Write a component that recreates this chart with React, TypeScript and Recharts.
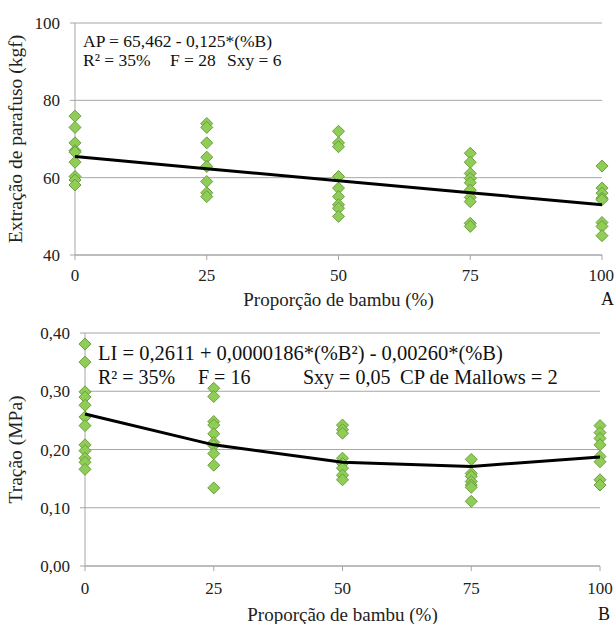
import React from "react";
import { ScatterChart, Scatter, XAxis, YAxis, CartesianGrid, Label } from "recharts";

const proportions = [0, 25, 50, 75, 100];

// Panel A - extração de parafuso (kgf)
const ap0 = [75.9, 73, 69, 67, 66.6, 64, 60.3, 59.4, 58.1];
const ap25 = [74, 73, 69, 65.3, 62.9, 59, 56.1, 55.1];
const ap50 = [72, 69, 68, 60.3, 57.3, 55.1, 53, 52.1, 50];
const ap75 = [66.3, 64, 61.1, 59.8, 58.7, 56.8, 54.9, 53.8, 48.2, 47.4];
const ap100 = [63, 57.3, 56, 54.7, 54.3, 48.4, 47.4, 45];
const apFit = [65.5, 62.3, 59.2, 56.1, 53.0];
const apTicks = [40, 60, 80, 100];

// Panel B - tração (MPa)
const li0 = [0.381, 0.35, 0.299, 0.29, 0.276, 0.256, 0.241, 0.208, 0.198, 0.185, 0.178, 0.166];
const li25 = [0.305, 0.291, 0.248, 0.242, 0.227, 0.212, 0.207, 0.193, 0.173, 0.134];
const li50 = [0.242, 0.234, 0.228, 0.185, 0.176, 0.168, 0.156, 0.148];
const li75 = [0.183, 0.159, 0.154, 0.145, 0.139, 0.135, 0.111];
const li100 = [0.241, 0.229, 0.219, 0.208, 0.188, 0.179, 0.148, 0.139];
const liFit = [0.261, 0.208, 0.178, 0.171, 0.187];
const liTicks = [0, 0.1, 0.2, 0.3, 0.4];

const toPoints = (groups: number[][]) =>
  groups.flatMap((vals, i) => vals.map((y) => ({ x: proportions[i], y })));
const fitPoints = (vals: number[]) => vals.map((y, i) => ({ x: proportions[i], y }));

const apData = toPoints([ap0, ap25, ap50, ap75, ap100]);
const liData = toPoints([li0, li25, li50, li75, li100]);

const FONT = "'Liberation Serif', 'Times New Roman', 'DejaVu Serif', serif";
const GRID = "#a6a6a6";
const tickStyle = { fontSize: 17, fill: "#222", fontFamily: FONT };

const Diamond = (props: any) => {
  const { cx, cy } = props;
  const r = 6;
  return (
    <polygon
      points={`${cx},${cy - r} ${cx + r},${cy} ${cx},${cy + r} ${cx - r},${cy}`}
      fill="#8fcd57"
      stroke="#6b9e3f"
      strokeWidth={1}
    />
  );
};

const NoDot = () => <g />;

const comma2 = (v: number) => v.toFixed(2).replace(".", ",");

export default function App() {
  return (
    <div
      style={{
        position: "absolute",
        left: 0,
        top: 0,
        width: 614,
        height: 624,
        background: "#fff",
        fontFamily: FONT,
      }}
    >
      <div style={{ position: "absolute", left: 0, top: 0 }}>
        <ScatterChart width={614} height={310} margin={{ top: 23, right: 12, left: 0, bottom: 0 }}>
          <CartesianGrid vertical={false} stroke={GRID} />
          <XAxis
            type="number"
            dataKey="x"
            domain={[0, 100]}
            ticks={proportions}
            height={55}
            stroke={GRID}
            tickSize={5}
            tickMargin={9}
            tick={tickStyle}
          >
            <Label
              value="Proporção de bambu (%)"
              position="insideBottom"
              offset={4}
              style={{ fontSize: 19, fill: "#222", fontFamily: FONT }}
            />
          </XAxis>
          <YAxis
            type="number"
            dataKey="y"
            domain={[40, 100]}
            ticks={apTicks}
            width={75}
            stroke={GRID}
            tickSize={5}
            tickMargin={10}
            tick={tickStyle}
          >
            <Label
              value="Extração de parafuso (kgf)"
              angle={-90}
              position="insideLeft"
              offset={15}
              style={{ fontSize: 19.5, fill: "#222", fontFamily: FONT, textAnchor: "middle" }}
            />
          </YAxis>
          <Scatter data={apData} shape={Diamond} isAnimationActive={false} />
          <Scatter
            data={fitPoints(apFit)}
            shape={NoDot}
            line={{ stroke: "#000", strokeWidth: 3 }}
            isAnimationActive={false}
          />
        </ScatterChart>
      </div>
      <div style={{ position: "absolute", left: 0, top: 300 }}>
        <ScatterChart width={614} height={324} margin={{ top: 33, right: 14, left: 0, bottom: 0 }}>
          <CartesianGrid vertical={false} stroke={GRID} />
          <XAxis
            type="number"
            dataKey="x"
            domain={[0, 100]}
            ticks={proportions}
            height={58}
            stroke={GRID}
            tickSize={5}
            tickMargin={11}
            tick={tickStyle}
          >
            <Label
              value="Proporção de bambu (%)"
              position="insideBottom"
              offset={3}
              style={{ fontSize: 19, fill: "#222", fontFamily: FONT }}
            />
          </XAxis>
          <YAxis
            type="number"
            dataKey="y"
            domain={[0, 0.4]}
            ticks={liTicks}
            tickFormatter={comma2}
            width={85}
            stroke={GRID}
            tickSize={5}
            tickMargin={10}
            tick={tickStyle}
          >
            <Label
              value="Tração (MPa)"
              angle={-90}
              position="insideLeft"
              offset={15}
              style={{ fontSize: 19.5, fill: "#222", fontFamily: FONT, textAnchor: "middle" }}
            />
          </YAxis>
          <Scatter data={liData} shape={Diamond} isAnimationActive={false} />
          <Scatter
            data={fitPoints(liFit)}
            shape={NoDot}
            line={{ stroke: "#000", strokeWidth: 3 }}
            isAnimationActive={false}
          />
        </ScatterChart>
      </div>
      <svg
        width={614}
        height={624}
        style={{ position: "absolute", left: 0, top: 0, pointerEvents: "none", fontFamily: FONT }}
        fill="#111"
      >
        <text x={83} y={47} fontSize={17.5}>AP = 65,462 - 0,125*(%B)</text>
        <text x={83} y={66} fontSize={17.5}>R² = 35%</text>
        <text x={170} y={66} fontSize={17.5}>F = 28</text>
        <text x={227} y={66} fontSize={17.5}>Sxy = 6</text>
        <text x={601} y={305} fontSize={18}>A</text>
        <text x={98} y={360} fontSize={20.5}>LI = 0,2611 + 0,0000186*(%B²) - 0,00260*(%B)</text>
        <text x={98} y={384} fontSize={20}>R² = 35%</text>
        <text x={198} y={384} fontSize={20}>F = 16</text>
        <text x={303} y={384} fontSize={20}>Sxy = 0,05</text>
        <text x={400} y={384} fontSize={20.5}>CP de Mallows = 2</text>
        <text x={598} y={620} fontSize={18}>B</text>
      </svg>
    </div>
  );
}
